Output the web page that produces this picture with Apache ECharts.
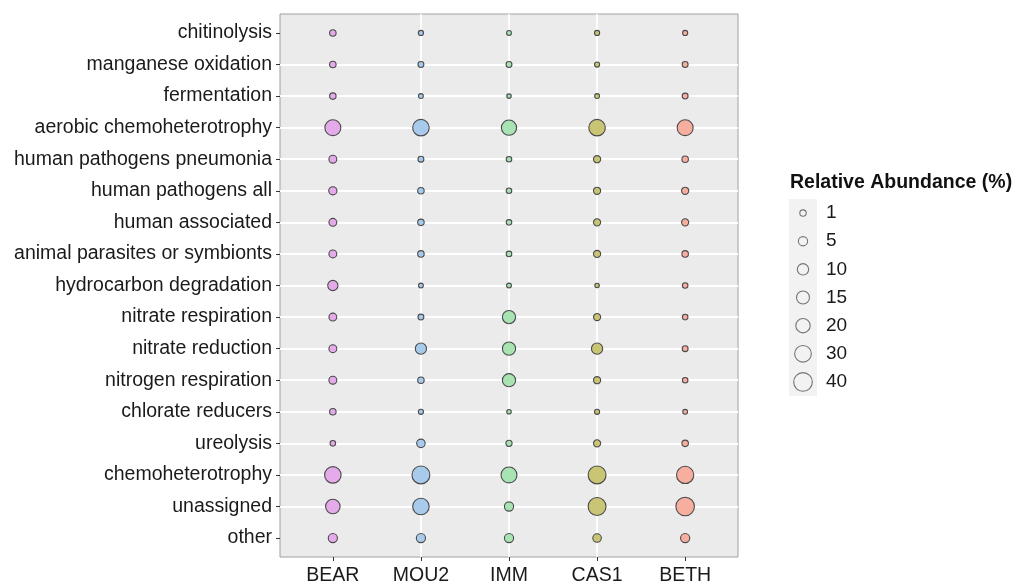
<!DOCTYPE html>
<html><head><meta charset="utf-8">
<script src="https://cdn.jsdelivr.net/npm/echarts@6/dist/echarts.min.js"></script>
<style>html,body{margin:0;padding:0;background:#fff}#c{width:1014px;height:581px}</style>
</head><body><div id="c"></div>
<script>
const sites = ['BEAR', 'MOU2', 'IMM', 'CAS1', 'BETH'];
const functions = ['chitinolysis', 'manganese oxidation', 'fermentation', 'aerobic chemoheterotrophy',
  'human pathogens pneumonia', 'human pathogens all', 'human associated', 'animal parasites or symbionts',
  'hydrocarbon degradation', 'nitrate respiration', 'nitrate reduction', 'nitrogen respiration',
  'chlorate reducers', 'ureolysis', 'chemoheterotrophy', 'unassigned', 'other'];
// relative abundance (%) per function, top-to-bottom order
const BEAR = [1.1, 1.1, 1.1, 26.4, 2.7, 3.2, 2.7, 2.7, 7.1, 2.7, 2.7, 2.7, 1.1, 0.4, 29.1, 20.5, 4.9];
const MOU2 = [0.2, 0.6, 0.1, 29.1, 0.6, 1.1, 1.1, 1.1, 0.1, 0.6, 9.6, 1.1, 0.2, 3.7, 36.0, 29.1, 4.9];
const IMM  = [0.1, 0.6, 0.03, 23.3, 0.4, 0.4, 0.4, 0.4, 0.1, 15.7, 15.7, 15.7, 0.03, 0.8, 26.4, 4.9, 4.9];
const CAS1 = [0.2, 0.2, 0.1, 29.1, 1.8, 1.8, 1.8, 1.8, 0.03, 1.8, 9.6, 1.8, 0.2, 1.8, 36.0, 36.0, 3.7];
const BETH = [0.2, 0.6, 0.6, 26.4, 1.1, 1.8, 1.8, 1.1, 0.4, 0.4, 0.6, 0.4, 0.1, 1.1, 32.5, 39.3, 4.9];
const siteValues = [BEAR, MOU2, IMM, CAS1, BETH];
const siteColors = ['#E4AAEA', '#A8CBEC', '#A8E3B4', '#C9C575', '#F8AE9F'];
const legendBreaks = [1, 5, 10, 15, 20, 30, 40];

const FONT = '"Liberation Sans", Arial, Helvetica, sans-serif';
const sizeOf = v => 4.1 + 2.3 * Math.sqrt(v);
const idx5 = sites.map((_, i) => i);
const idx17 = functions.map((_, i) => i);

const series = sites.map((s, si) => ({
  type: 'scatter', name: s, xAxisIndex: 0, yAxisIndex: 0,
  data: siteValues[si].map((v, fi) => [si, fi, v]),
  symbol: 'circle',
  symbolSize: d => sizeOf(d[2]),
  itemStyle: { color: siteColors[si], borderColor: '#4a4a4a', borderWidth: 1.1, opacity: 1 },
  silent: true
}));
series.push({
  type: 'scatter', xAxisIndex: 1, yAxisIndex: 1,
  data: legendBreaks.map((b, i) => [0, i, b]),
  symbol: 'circle',
  symbolSize: d => sizeOf(d[2]),
  itemStyle: { color: 'rgba(0,0,0,0)', borderColor: '#555', borderWidth: 1.1 },
  silent: true
});

const chart = echarts.init(document.getElementById('c'), null, { renderer: 'canvas' });
chart.setOption({
  animation: false,
  backgroundColor: '#ffffff',
  textStyle: { fontFamily: FONT },
  title: {
    text: 'Relative Abundance (%)', left: 790, top: 173, padding: 0,
    textStyle: { fontFamily: FONT, fontSize: 19.5, fontWeight: 'bold', color: '#111' }
  },
  grid: [
    { left: 280, top: 14, width: 458, height: 543, show: true, backgroundColor: '#EBEBEB',
      borderColor: '#a0a0a0', borderWidth: 1, containLabel: false, outerBoundsMode: 'none' },
    { left: 789, top: 199, width: 28, height: 197, show: true, backgroundColor: '#F2F2F2',
      borderWidth: 0, containLabel: false, outerBoundsMode: 'none' }
  ],
  xAxis: [
    { type: 'value', gridIndex: 0, min: -0.6, max: 4.6, minInterval: 1, maxInterval: 1, position: 'bottom',
      axisLine: { show: false, onZero: false },
      axisTick: { show: true, length: 4, customValues: idx5, lineStyle: { color: '#333', width: 1 } },
      axisLabel: { customValues: idx5, formatter: v => sites[Math.round(v)] || '', fontSize: 19.5,
        color: '#1a1a1a', margin: 9, fontFamily: FONT },
      splitLine: { show: true, showMinLine: false, showMaxLine: false, lineStyle: { color: '#ffffff', width: 1.8 } } },
    { type: 'value', gridIndex: 1, min: -1, max: 1, show: false, axisLine: { onZero: false } }
  ],
  yAxis: [
    { type: 'value', gridIndex: 0, min: -0.6, max: 16.6, inverse: true, minInterval: 1, maxInterval: 1, position: 'left',
      axisLine: { show: false, onZero: false },
      axisTick: { show: true, length: 4, customValues: idx17, lineStyle: { color: '#333', width: 1 } },
      axisLabel: { customValues: idx17, formatter: v => functions[Math.round(v)] || '', fontSize: 19.5,
        color: '#1a1a1a', margin: 8, fontFamily: FONT },
      splitLine: { show: true, showMinLine: false, showMaxLine: false, lineStyle: { color: '#ffffff', width: 1.8 } } },
    { type: 'category', gridIndex: 1, data: legendBreaks.map(String), inverse: true, position: 'right',
      axisLine: { show: false, onZero: false }, axisTick: { show: false }, splitLine: { show: false },
      axisLabel: { margin: 9, fontSize: 19, color: '#1a1a1a', fontFamily: FONT, align: 'left' } }
  ],
  series: series
});
</script>
</body></html>
